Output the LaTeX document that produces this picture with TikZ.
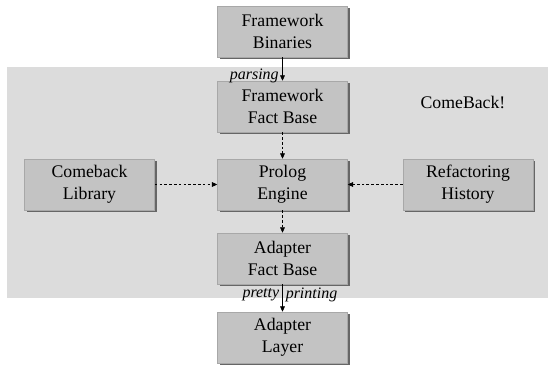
\documentclass[tikz,border=0pt]{standalone}
\usepackage{fontspec}
\setmainfont{Liberation Serif}
\newfontfamily\tnr{Liberation Serif}
\usetikzlibrary{shadows,arrows.meta}
\definecolor{regiongray}{HTML}{DCDCDC}
\definecolor{boxgray}{HTML}{C3C3C3}
\definecolor{boxedge}{HTML}{A8A8A8}
\begin{document}
\begin{tikzpicture}[x=0.75pt,y=-0.75pt,
  compbox/.style={draw=boxedge, line width=0.4pt, fill=boxgray,
    minimum width=97.5pt, minimum height=38.25pt, inner sep=0pt,
    align=center, font=\tnr\fontsize{13.3}{16.5}\selectfont,
    drop shadow={shadow xshift=1.6pt, shadow yshift=-1.6pt, fill=black!60, opacity=1}},
  conn/.style={line width=0.5pt, -{Triangle[length=4pt,width=3.6pt]}},
  dconn/.style={conn, dash pattern=on 2pt off 1.6pt},
  lbl/.style={font=\tnr\fontsize{12}{14}\selectfont\itshape, inner sep=0pt}
]
\useasboundingbox (0,0) rectangle (549,364);
\fill[regiongray] (7,67) rectangle (548,298);

\node[compbox] (fb)  at (282.5,31.5)  {Framework\\Binaries};
\node[compbox] (ffb) at (282.5,106.5) {Framework\\Fact Base};
\node[compbox] (pe)  at (282.5,184.5) {Prolog\\Engine};
\node[compbox] (afb) at (282.5,258.5) {Adapter\\Fact Base};
\node[compbox] (al)  at (282.5,337.5) {Adapter\\Layer};
\node[compbox] (cl)  at (89.5,184.5)  {Comeback\\Library};
\node[compbox] (rh)  at (468,184.5)   {Refactoring\\History};

\node[font=\tnr\fontsize{13.3}{16.5}\selectfont, inner sep=0pt] (title) at (463,102) {ComeBack!};

\draw[conn]  (fb.south)  -- (ffb.north);
\draw[dconn] (ffb.south) -- (pe.north);
\draw[dconn] (cl.east)   -- (pe.west);
\draw[dconn] (rh.west)   -- (pe.east);
\draw[dconn] (pe.south)  -- (afb.north);
\draw[conn]  (afb.south) -- (al.north);

\node[lbl, anchor=east] (parsing) at (279,76) {parsing};
\node[lbl, anchor=east] (pretty) at (279.5,295) {pretty};
\node[lbl, anchor=west] (printing) at (285.5,295) {printing};
\end{tikzpicture}
\end{document}
